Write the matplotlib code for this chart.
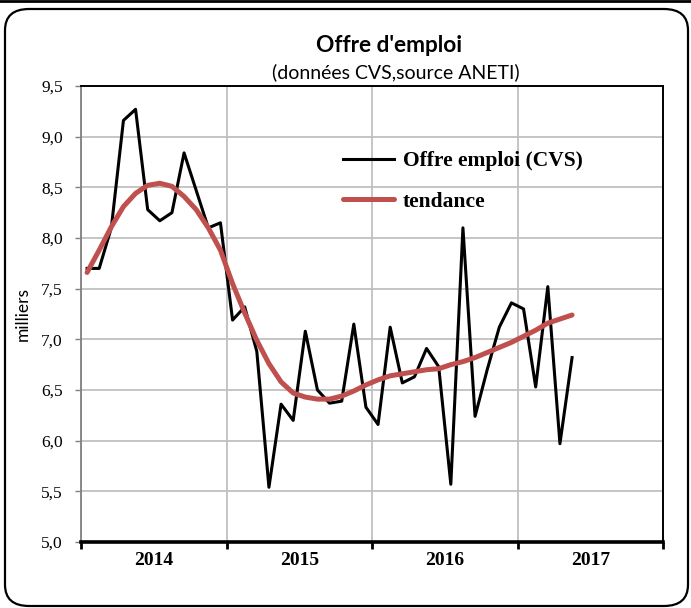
import matplotlib
matplotlib.use("Agg")
import matplotlib.pyplot as plt
from matplotlib.patches import FancyBboxPatch
from matplotlib.lines import Line2D

# monthly job offers (thousands), Jan 2014 - May 2017
offre = [7.70, 7.70, 8.10, 9.16, 9.27, 8.28, 8.17, 8.25, 8.84, 8.47,
         8.10, 8.15, 7.19, 7.32, 6.88, 5.54, 6.36, 6.20, 7.08, 6.50,
         6.37, 6.39, 7.15, 6.33, 6.16, 7.12, 6.57, 6.63, 6.91, 6.73,
         5.57, 8.10, 6.24, 6.70, 7.12, 7.36, 7.30, 6.53, 7.52, 5.97,
         6.82]
tendance = [7.66, 7.88, 8.11, 8.31, 8.44, 8.52, 8.54, 8.51, 8.41, 8.28,
            8.10, 7.88, 7.55, 7.26, 6.99, 6.76, 6.58, 6.47, 6.43, 6.41,
            6.41, 6.44, 6.49, 6.55, 6.60, 6.64, 6.66, 6.68, 6.70, 6.71,
            6.75, 6.78, 6.82, 6.87, 6.92, 6.97, 7.03, 7.09, 7.16, 7.20,
            7.24]
years = ["2014", "2015", "2016", "2017"]
y_ticks = [5.0, 5.5, 6.0, 6.5, 7.0, 7.5, 8.0, 8.5, 9.0, 9.5]

months = [i + 0.5 for i in range(len(offre))]

serif = "Liberation Serif"
W, H = 691, 608
fig = plt.figure(figsize=(W / 100, H / 100), dpi=100)

# outer rounded frame
frame = FancyBboxPatch((5 / W, 2 / H), 683 / W, 597 / H,
                       boxstyle="round,pad=0,rounding_size=0.035",
                       transform=fig.transFigure, fill=False,
                       edgecolor="black", linewidth=1.6)
fig.patches.append(frame)
fig.add_artist(Line2D([0, 1], [0.999, 0.999], color="black", linewidth=2,
                      transform=fig.transFigure))

ax = fig.add_axes([81 / W, 66 / H, 582 / W, 456 / H])
ax.plot(months, offre, color="black", linewidth=2.2,
        label="Offre emploi (CVS)", zorder=3)
ax.plot(months, tendance, color="#c0504d", linewidth=3.6,
        label="tendance", solid_capstyle="round", zorder=4)

ax.set_xlim(0, 48)
ax.set_ylim(5.0, 9.5)
ax.set_yticks(y_ticks)
ax.set_yticklabels([f"{v:.1f}".replace(".", ",") for v in y_ticks],
                   fontfamily=serif, fontsize=12.5)
ax.set_xticks([0, 12, 24, 36, 48])
ax.set_xticklabels([])
ax.set_xticks([6, 18, 30, 42], minor=True)
ax.set_xticklabels(years, minor=True, fontfamily=serif,
                   fontweight="bold", fontsize=14)
ax.tick_params(axis="x", which="major", direction="out", length=5,
               width=2, color="black")
ax.tick_params(axis="x", which="minor", length=0, pad=7)
ax.tick_params(axis="y", direction="out", length=4, width=1,
               color="#808080", pad=9)

ax.grid(True, which="major", color="#c0c0c0", linewidth=1.3)
ax.set_axisbelow(True)
for side in ["top", "right"]:
    ax.spines[side].set_linewidth(1.4)
    ax.spines[side].set_color("black")
ax.spines["bottom"].set_linewidth(2.6)
ax.spines["bottom"].set_color("black")
ax.spines["left"].set_linewidth(1.3)
ax.spines["left"].set_color("#808080")

ax.set_ylabel("milliers", fontsize=12.5, fontfamily="Lato")
ax.yaxis.set_label_coords((31 - 81) / 582, 0.5)

ax.legend(loc="upper left", bbox_to_anchor=(343 / W, 1 - 151 / H),
          bbox_transform=fig.transFigure, borderpad=0, borderaxespad=0,
          frameon=False, prop={"family": serif, "weight": "bold",
                               "size": 15.5},
          handlelength=2.35, handletextpad=0.42, labelspacing=0.95)

fig.text(389 / W, 1 - 52 / H, "Offre d'emploi", ha="center",
         va="baseline", fontsize=16.3, fontweight="bold", fontfamily="Lato")
fig.text(396 / W, 1 - 78 / H, "(données CVS,source ANETI)",
         ha="center", va="baseline", fontsize=14, fontfamily="Lato")

fig.savefig("out.png", dpi=100)
